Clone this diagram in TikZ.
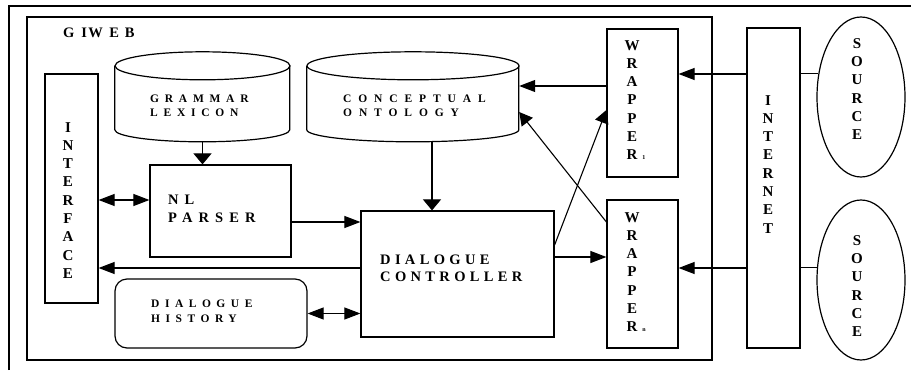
\documentclass[tikz,border=0pt]{standalone}
\usepackage{fontspec}
\setmainfont{Liberation Serif}
\usetikzlibrary{arrows.meta,calc,shapes.geometric}
\begin{document}
\begin{tikzpicture}[x=1pt,y=1pt,
  lw/.style={line width=1.2pt},
  blk/.style={draw, lw, inner sep=0pt},
  hid/.style={inner sep=0pt},
  conn/.style={line width=1.1pt},
  harr/.style={conn, -{Triangle[length=16pt,width=12pt]}},
  varr/.style={conn, -{Triangle[length=11pt,width=18pt]}},
  darr/.style={conn, -{Triangle[length=13pt,width=14pt]}},
  dbl/.style={conn, {Triangle[length=16pt,width=12pt]}-{Triangle[length=16pt,width=12pt]}},
  smalltxt/.style={font=\bfseries\fontsize{11.5}{13.4}\selectfont\addfontfeature{LetterSpace=#1}, align=left, inner sep=0pt, anchor=north west},
  bigtxt/.style={font=\bfseries\fontsize{14.5}{17}\selectfont\addfontfeature{LetterSpace=#1}, align=left, inner sep=0pt, anchor=north west},
  vert/.style={font=\bfseries\fontsize{15}{18.3}\selectfont, align=center, inner sep=0pt, anchor=north}
]
\useasboundingbox (0,0) rectangle (911,-370);
% outer frame
\coordinate (fa) at (9,-370);
\coordinate (fb) at (9,-6);
\coordinate (fc) at (911,-6);
\draw[lw] (fa) -- (fb) -- (fc);
% GIWEB frame
\node[blk, minimum width=685, minimum height=343] (giweb) at (369.5,-188.5) {};
\node[hid, anchor=north west, font=\bfseries\fontsize{14.5}{16}\selectfont] (giwebtxt) at (63,-28) {G\hspace{7pt}I\hspace{1.2pt}W\hspace{6.5pt}E\hspace{6pt}B};

% cylinders
\node[hid, minimum width=175, minimum height=90] (gram) at (202.5,-97) {};
\draw[lw] (gram.north west) ++(0,-14) -- ++(0,-64) arc[start angle=180,end angle=360,x radius=87.5pt,y radius=12pt] -- ++(0,64);
\draw[lw] ($(gram.north)+(0,-14)$) ellipse[x radius=87.5pt, y radius=14pt];
\node[smalltxt=50] (gramtxt) at (150,-95) {GRAMMAR\\LEXICON};

\node[hid, minimum width=212, minimum height=90] (onto) at (413,-97) {};
\draw[lw] (onto.north west) ++(0,-14) -- ++(0,-64) arc[start angle=180,end angle=360,x radius=106pt,y radius=12pt] -- ++(0,64);
\draw[lw] ($(onto.north)+(0,-14)$) ellipse[x radius=106pt, y radius=14pt];
\node[smalltxt=60] (ontotxt) at (343,-95) {CONCEPTUAL\\ONTOLOGY};

% boxes
\node[blk, minimum width=53, minimum height=229] (iface) at (71.5,-188.5) {};
\node[vert] (ifacetxt) at (68,-122) {I\\N\\T\\E\\R\\F\\A\\C\\E};

\node[blk, minimum width=141, minimum height=92] (nlp) at (220.5,-211) {};
\node[bigtxt=42, font=\bfseries\fontsize{14.5}{18}\selectfont\addfontfeature{LetterSpace=42}] (nlptxt) at (168,-195) {NL\\PARSER};

\node[blk, minimum width=193, minimum height=126] (dc) at (457.5,-274) {};
\node[bigtxt=30] (dctxt) at (380,-255) {DIALOGUE\\CONTROLLER};

\node[blk, rounded corners=12pt, minimum width=192, minimum height=69] (hist) at (211,-313.5) {};
\node[smalltxt=48, font=\bfseries\fontsize{11.5}{14.3}\selectfont\addfontfeature{LetterSpace=48}] (histtxt) at (151,-300) {DIALOGUE\\HISTORY};

\node[blk, minimum width=71, minimum height=148] (w1) at (642.5,-103) {};
\node[vert] (w1txt) at (632,-40) {W\\R\\A\\P\\P\\E\\R\rlap{\hspace{5pt}\fontsize{6}{6}\selectfont 1}};

\node[blk, minimum width=71, minimum height=148] (wn) at (642.5,-274) {};
\node[vert] (wntxt) at (632,-212) {W\\R\\A\\P\\P\\E\\R\rlap{\hspace{5pt}\fontsize{6}{6}\selectfont n}};

\node[blk, minimum width=53, minimum height=320] (inet) at (773.5,-188) {};
\node[vert] (inettxt) at (768,-95) {I\\N\\T\\E\\R\\N\\E\\T};

\node[draw, lw, ellipse, inner sep=0pt, minimum width=88, minimum height=160] (src1) at (861,-97) {};
\node[vert] (src1txt) at (857,-38) {S\\O\\U\\R\\C\\E};
\node[draw, lw, ellipse, inner sep=0pt, minimum width=88, minimum height=160] (src2) at (861,-280) {};
\node[vert] (src2txt) at (857,-235) {S\\O\\U\\R\\C\\E};

% connector points
\coordinate (p1) at ($(nlp.west)+(0,11)$);
\coordinate (p2) at ($(nlp.east)+(0,-11)$);
\coordinate (p3) at ($(dc.west)+(0,6)$);
\coordinate (p4) at ($(dc.east)+(0,17)$);
\coordinate (p5) at ($(dc.east)+(0,29)$);
\coordinate (p6) at ($(w1.west)+(0,-7)$);
\coordinate (p7) at ($(w1.west)+(0,17)$);
\coordinate (p8) at ($(wn.west)+(0,52)$);
\coordinate (p9) at ($(onto.east)+(0,-15)$);
\coordinate (p10) at ($(w1.east)+(0,29)$);
\coordinate (p11) at ($(wn.east)+(0,6)$);
\coordinate (oa) at ($(onto.south)+(19,0)$);

% connectors
\draw[varr] (gram.south) -- (gram.south |- nlp.north);
\draw[varr] (oa) -- (oa |- dc.north);
\draw[dbl] (iface.east |- p1) -- (p1);
\draw[harr] (p2) -- (p2 -| dc.west);
\draw[harr] (p3) -- (p3 -| iface.east);
\draw[dbl] (hist.east) -- (hist.east -| dc.west);
\draw[harr] (p4) -- (p4 -| wn.west);
\draw[darr] (p5) -- (p6);
\draw[harr] (p7) -- (p7 -| onto.east);
\draw[darr] (p8) -- (p9);
\draw[harr] (p10 -| inet.west) -- (p10);
\draw[conn] (src1.151.4) -- (src1.151.4 -| inet.east);
\draw[harr] (p11 -| inet.west) -- (p11);
\draw[conn] (src2.164.6) -- (src2.164.6 -| inet.east);
\end{tikzpicture}
\end{document}
